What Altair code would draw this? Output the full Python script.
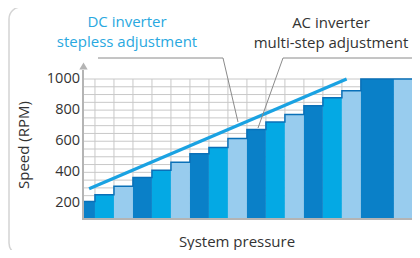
import altair as alt
import pandas as pd

# ---- data ----
pressure_lo = [0.0, 0.63, 1.63, 2.63, 3.63, 4.63, 5.63, 6.63, 7.63, 8.63,
               9.63, 10.63, 11.63, 12.63, 13.63, 14.63, 16.37]
pressure_hi = [0.63, 1.63, 2.63, 3.63, 4.63, 5.63, 6.63, 7.63, 8.63, 9.63,
               10.63, 11.63, 12.63, 13.63, 14.63, 16.37, 17.32]
speeds = [213, 256, 310, 366, 413, 465, 520, 559, 617, 675, 724, 772,
          828, 880, 925, 1000, 1000]
tones = ["d", "m", "l", "d", "m", "l", "d", "m", "l", "d", "m", "l",
         "d", "m", "l", "d", "l"]
dc_pressure = [0.32, 13.88]
dc_speed = [295, 1000]
speed_ticks = list(range(100, 1001, 50))

FONT = "Open Sans"
TXT = "#333333"

bars_df = pd.DataFrame({"lo": pressure_lo, "hi": pressure_hi,
                        "speed": speeds, "tone": tones})
step_df = pd.DataFrame({"lo": pressure_lo + [pressure_hi[-1]],
                        "speed": speeds + [speeds[-1]]})
dc_df = pd.DataFrame({"lo": dc_pressure, "speed": dc_speed})
grid_df = pd.DataFrame({"speed": speed_ticks})
vgrid_df = pd.DataFrame({"lo": pressure_lo[1:16]})
lab_df = pd.DataFrame({"speed": [200, 400, 600, 800, 1000]})
one = pd.DataFrame({"a": [0]})

xscale = alt.Scale(domain=[0, 17.32], nice=False, zero=False)
yscale = alt.Scale(domain=[100, 1000], nice=False, zero=False)

gcol = "#c8c8c8"
hgrid = alt.Chart(grid_df).mark_rule(color=gcol, strokeWidth=1).encode(
    y=alt.Y("speed:Q", scale=yscale, axis=None), x=alt.value(0), x2=alt.value(329))
vgrid = alt.Chart(vgrid_df).mark_rule(color=gcol, strokeWidth=1).encode(
    x=alt.X("lo:Q", scale=xscale, axis=None), y=alt.value(0), y2=alt.value(140))
ylabels = alt.Chart(lab_df).mark_text(font=FONT, fontSize=14.5, color=TXT,
                                      align="right", baseline="middle", dx=-3).encode(
    y=alt.Y("speed:Q", scale=yscale, axis=None), x=alt.value(0),
    text=alt.Text("speed:Q", format="d"))

frame = alt.Chart(one).mark_rect(
    fill="white", fillOpacity=0, stroke="#d4d4d4", strokeWidth=1.5, cornerRadius=12
).encode(x=alt.value(-74), x2=alt.value(360), y=alt.value(-72), y2=alt.value(176))

bars = alt.Chart(bars_df).mark_rect().encode(
    x=alt.X("lo:Q", scale=xscale, axis=None),
    x2="hi:Q",
    y=alt.Y("speed:Q", scale=yscale, axis=None),
    y2=alt.datum(100),
    color=alt.Color("tone:N", scale=alt.Scale(domain=["d", "m", "l"],
                    range=["#0a80c8", "#04a9e4", "#98ccee"]), legend=None),
)

steps = alt.Chart(step_df).mark_line(interpolate="step-after", color="#0a70b8",
                                     strokeWidth=1.5).encode(
    x=alt.X("lo:Q", scale=xscale, axis=None), y=alt.Y("speed:Q", scale=yscale, axis=None))

dc = alt.Chart(dc_df).mark_line(color="#1aa2e2", strokeWidth=3.2, strokeCap="butt").encode(
    x=alt.X("lo:Q", scale=xscale, axis=None), y=alt.Y("speed:Q", scale=yscale, axis=None))

axis_col = "#b4b4b4"
yline = alt.Chart(one).mark_rule(color=axis_col, strokeWidth=2).encode(
    x=alt.value(0), y=alt.value(-9), y2=alt.value(141))
xline = alt.Chart(one).mark_rule(color=axis_col, strokeWidth=2).encode(
    x=alt.value(-1), x2=alt.value(331), y=alt.value(140))
yarrow = alt.Chart(one).mark_point(shape="triangle-up", filled=True, color=axis_col,
                                   opacity=1, size=70).encode(
    x=alt.value(0.5), y=alt.value(-13))
xarrow = alt.Chart(one).mark_point(shape="triangle-right", filled=True, color=axis_col,
                                   opacity=1, size=70).encode(
    x=alt.value(333), y=alt.value(140))

lead = "#8a8a8a"
def seg(x1, y1, x2, y2):
    return alt.Chart(one).mark_rule(color=lead, strokeWidth=1).encode(
        x=alt.value(x1), y=alt.value(y1), x2=alt.value(x2), y2=alt.value(y2))

leaders = [seg(15, -21, 140, -21), seg(140, -21, 155, 43),
           seg(345, -21, 200, -21), seg(200, -21, 175, 49)]

def label(txt, x, y, color=TXT, angle=0):
    return alt.Chart(one).mark_text(text=txt, font=FONT, fontSize=15, color=color,
                                    align="center", baseline="alphabetic",
                                    angle=angle).encode(x=alt.value(x), y=alt.value(y))

texts = [
    label("DC inverter", 44, -52, "#29a8e0"),
    label("stepless adjustment", 44, -32, "#29a8e0"),
    label("AC inverter", 248, -51),
    label("multi-step adjustment", 248, -31),
    label("System pressure", 154, 168),
    label("Speed (RPM)", -54, 66, angle=270),
]

chart = alt.layer(frame, hgrid, vgrid, bars, steps, dc, yline, xline, yarrow, xarrow,
                  ylabels, *leaders, *texts).properties(
    width=329, height=140,
    autosize=alt.AutoSizeParams(type="none"),
    padding={"left": 75, "top": 71, "right": 0, "bottom": 31},
).configure_view(stroke=None)

chart.save("out.html", embed_options={"renderer": "svg", "actions": False})
